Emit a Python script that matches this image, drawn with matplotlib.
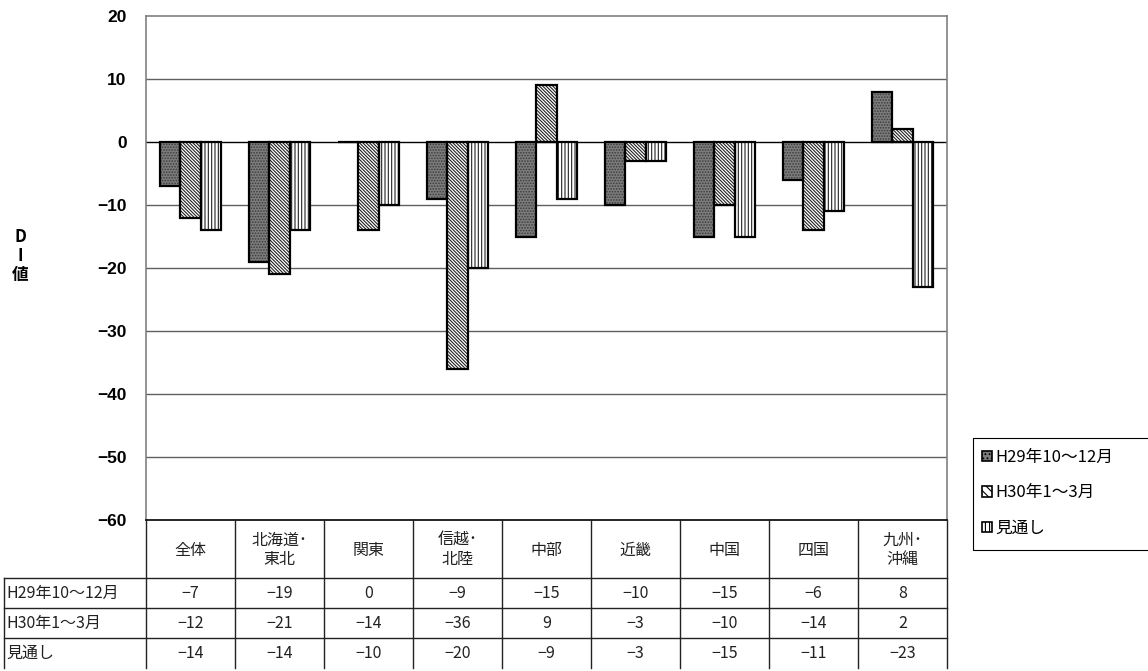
import matplotlib.pyplot as plt
import numpy as np

plt.rcParams['font.family'] = ['Noto Sans CJK JP', 'DejaVu Sans']
plt.rcParams['hatch.linewidth'] = 0.8

categories = ['全体', '北海道･\n東北', '関東', '信越･\n北陸', '中部', '近畿', '中国', '四国', '九州･\n沖縄']
series_names = ['H29年10～12月', 'H30年1～3月', '見通し']
h29_oct_dec = [-7, -19, 0, -9, -15, -10, -15, -6, 8]
h30_jan_mar = [-12, -21, -14, -36, 9, -3, -10, -14, 2]
outlook = [-14, -14, -10, -20, -9, -3, -15, -11, -23]
y_ticks = [20, 10, 0, -10, -20, -30, -40, -50, -60]

W, H = 1148, 671
fig = plt.figure(figsize=(W / 100, H / 100), dpi=100)

# plot area in pixels
px_l, px_r, px_t, px_b = 146, 947, 16, 520
ax = fig.add_axes([px_l / W, 1 - px_b / H, (px_r - px_l) / W, (px_b - px_t) / H])

x = np.arange(len(categories))
bw = 0.225
styles = [
    dict(color='#7c7c7c', hatch='......', hc='#3c3c3c'),
    dict(color='white', hatch='\\' * 10, hc='#222222'),
    dict(color='white', hatch='|' * 5, hc='#222222'),
]
data = [h29_oct_dec, h30_jan_mar, outlook]
handles = []
for i, (vals, st) in enumerate(zip(data, styles)):
    xs = x + (i - 1) * bw
    ax.bar(xs, vals, bw, color=st['color'], hatch=st['hatch'], edgecolor=st['hc'],
           linewidth=0, zorder=3)
    ax.bar(xs, vals, bw, fill=False, edgecolor='black', linewidth=1.6, zorder=4)
    handles.append(plt.Rectangle((0, 0), 1, 1, facecolor=st['color'], hatch=st['hatch'][:4],
                                 edgecolor='black', linewidth=1.2))

ax.set_xlim(-0.5, len(categories) - 0.5)
ax.set_ylim(-60, 20)
ax.set_yticks(y_ticks)
ax.set_yticklabels([f'−{abs(v)}' if v < 0 else str(v) for v in y_ticks],
                   family=['Liberation Sans', 'DejaVu Sans'], fontsize=12.5, fontweight='bold')
ax.tick_params(axis='y', length=0, pad=14)
ax.set_xticks([])
for v in y_ticks[1:-1]:
    ax.axhline(v, color='#606060' if v != 0 else 'black', linewidth=1, zorder=1)
for s in ax.spines.values():
    s.set_color('#808080')
    s.set_linewidth(1.2)
ax.spines['bottom'].set_color('black')

fig.text(20 / W, 1 - 256 / H, 'D\nI\n値', ha='center', va='center', fontsize=12,
         fontweight='bold', linespacing=1.05)

# data table under the plot
tax = fig.add_axes([0, 0, 1, 1])
tax.set_xlim(0, W)
tax.set_ylim(H, 0)
tax.axis('off')
cw = (px_r - px_l) / len(categories)
tab_l = 4
hdr_b = 578
row_h = 30
row_vals = data
n_rows = len(row_vals)
bottom = hdr_b + n_rows * row_h
lc = '#222222'
for k in range(len(categories) + 1):
    xv = px_l + k * cw
    tax.plot([xv, xv], [px_b, bottom], color=lc, lw=1)
tax.plot([tab_l, tab_l], [hdr_b, bottom], color=lc, lw=1)
tax.plot([tab_l, px_r], [hdr_b, hdr_b], color=lc, lw=1)
for r in range(1, n_rows):
    yv = hdr_b + r * row_h
    tax.plot([tab_l, px_r], [yv, yv], color=lc, lw=1)
for k, c in enumerate(categories):
    tax.text(px_l + (k + 0.5) * cw, (px_b + hdr_b) / 2 + 1, c, ha='center', va='center',
             fontsize=11.5, color='#222222', linespacing=1.15)
for r, (name, vals) in enumerate(zip(series_names, row_vals)):
    yc = hdr_b + (r + 0.5) * row_h
    tax.text(tab_l + 2, yc, name, ha='left', va='center', fontsize=11.5, color='#222222')
    for k, v in enumerate(vals):
        tax.text(px_l + (k + 0.5) * cw, yc, f'−{abs(v)}' if v < 0 else str(v),
                 ha='center', va='center', fontsize=11.5, color='#222222')

# legend: box runs past the right edge like the original
tax.add_patch(plt.Rectangle((973, 438), 200, 112, fill=False, edgecolor='black', lw=0.8))
fig.legend(handles, series_names, loc='upper left',
           bbox_to_anchor=(982 / W, 1 - 449 / H), frameon=False,
           fontsize=12, handlelength=0.6, handleheight=0.6,
           handletextpad=0.2, labelspacing=1.1, borderpad=0, borderaxespad=0)

fig.savefig('out.png', dpi=100)
